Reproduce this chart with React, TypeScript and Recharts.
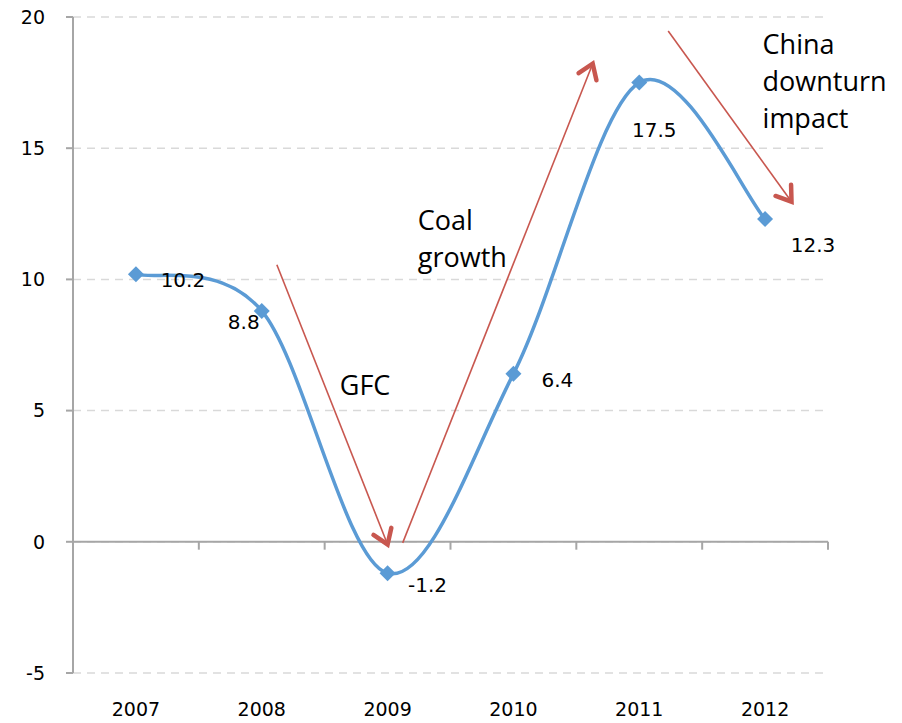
import { LineChart, Line, XAxis, YAxis, CartesianGrid, ReferenceLine, ReferenceDot } from 'recharts';

const years = ['2007', '2008', '2009', '2010', '2011', '2012'];
const growth = [10.2, 8.8, -1.2, 6.4, 17.5, 12.3];
const yTicks = [-5, 0, 5, 10, 15, 20];

// where each value label sits relative to its point (px)
const labelOffsets = [[47, 6], [-18, 11], [40, 12], [44, 6], [15, 47], [48, 26]];

// annotation arrows in data units: [x1, y1, x2, y2]
const arrows = [
  [1.12, 10.56, 2.0, -0.1],
  [2.12, -0.04, 3.63, 18.22],
  [4.23, 19.47, 5.21, 12.96],
];
const notes = [
  { x: 1.62, y: 5.98, lines: ['GFC'] },
  { x: 2.24, y: 12.27, lines: ['Coal', 'growth'] },
  { x: 4.98, y: 18.98, lines: ['China', 'downturn', 'impact'] },
];

const data = years.map((year, i) => ({ x: i, year, value: growth[i] }));
const boundaries = years.map((_, i) => i + 0.5);

const BLUE = '#5B9BD5';
const RED = '#C8574F';
const AXIS = '#a6a6a6';
const NUM_FONT = '"DejaVu Sans", sans-serif';
const TEXT_FONT = '"Open Sans", sans-serif';

// Excel-style smoothing (Catmull-Rom through every point)
function excelSmooth(context: any) {
  let pts: number[][] = [];
  return {
    areaStart() {},
    areaEnd() {},
    lineStart() {
      pts = [];
    },
    point(x: number, y: number) {
      pts.push([+x, +y]);
    },
    lineEnd() {
      const n = pts.length;
      if (!n) return;
      context.moveTo(pts[0][0], pts[0][1]);
      for (let i = 0; i < n - 1; i++) {
        const p0 = pts[Math.max(i - 1, 0)];
        const p1 = pts[i];
        const p2 = pts[i + 1];
        const p3 = pts[Math.min(i + 2, n - 1)];
        context.bezierCurveTo(
          p1[0] + (p2[0] - p0[0]) / 6,
          p1[1] + (p2[1] - p0[1]) / 6,
          p2[0] - (p3[0] - p1[0]) / 6,
          p2[1] - (p3[1] - p1[1]) / 6,
          p2[0],
          p2[1]
        );
      }
    },
  };
}

const Diamond = (props: any) => {
  const { cx, cy, index } = props;
  const r = 8;
  return (
    <polygon
      key={`dot-${index}`}
      points={`${cx},${cy - r} ${cx + r},${cy} ${cx},${cy + r} ${cx - r},${cy}`}
      fill={BLUE}
    />
  );
};

const ValueLabel = (props: any) => {
  const { x, y, value, index } = props;
  const [dx, dy] = labelOffsets[index] || [0, 0];
  return (
    <text
      key={`lbl-${index}`}
      x={x + dx}
      y={y + dy}
      textAnchor="middle"
      dominantBaseline="central"
      fontFamily={NUM_FONT}
      fontSize={20}
      fill="#000"
    >
      {value}
    </text>
  );
};

const Arrow = (props: any) => {
  const { x1, y1, x2, y2 } = props;
  const ang = Math.atan2(y2 - y1, x2 - x1);
  const len = 17;
  const spread = 0.6;
  const ax = x2 - len * Math.cos(ang - spread);
  const ay = y2 - len * Math.sin(ang - spread);
  const bx = x2 - len * Math.cos(ang + spread);
  const by = y2 - len * Math.sin(ang + spread);
  return (
    <g>
      <line x1={x1} y1={y1} x2={x2} y2={y2} stroke={RED} strokeWidth={1.6} />
      <polyline
        points={`${ax},${ay} ${x2},${y2} ${bx},${by}`}
        fill="none"
        stroke={RED}
        strokeWidth={4.5}
        strokeLinecap="round"
        strokeLinejoin="miter"
      />
    </g>
  );
};

const TickMark = (props: any) => {
  const { x1, y1, x2, y2 } = props;
  return <line x1={x1} y1={y1} x2={x2} y2={y2} stroke={AXIS} strokeWidth={2} />;
};

export default function App() {
  return (
    <div style={{ position: 'absolute', left: 0, top: 0, width: 902, height: 723, background: '#fff' }}>
      <LineChart width={902} height={723} data={data} margin={{ top: 17, right: 74, bottom: 0, left: 0 }}>
        <CartesianGrid vertical={false} stroke="#d9d9d9" strokeWidth={1.5} strokeDasharray="8 6" />
        <XAxis
          type="number"
          dataKey="x"
          domain={[-0.5, 5.5]}
          ticks={[0, 1, 2, 3, 4, 5]}
          tickFormatter={(v: number) => years[v]}
          axisLine={false}
          tickLine={false}
          tickSize={0}
          tickMargin={30}
          height={50}
          interval={0}
          tick={{ fontFamily: NUM_FONT, fontSize: 19, fill: '#000' }}
        />
        <YAxis
          domain={[-5, 20]}
          ticks={yTicks}
          width={73}
          axisLine={{ stroke: AXIS, strokeWidth: 2 }}
          tickLine={{ stroke: AXIS, strokeWidth: 2 }}
          tickSize={7}
          tickMargin={21}
          interval={0}
          tick={{ fontFamily: NUM_FONT, fontSize: 19, fill: '#000' }}
        />
        <ReferenceLine y={0} stroke={AXIS} strokeWidth={2} />
        {boundaries.map((b) => (
          <ReferenceLine
            key={`tm-${b}`}
            segment={[{ x: b, y: 0 }, { x: b, y: -0.3 }]}
            shape={TickMark}
          />
        ))}
        {arrows.map((a, i) => (
          <ReferenceLine
            key={`ar-${i}`}
            segment={[{ x: a[0], y: a[1] }, { x: a[2], y: a[3] }]}
            shape={Arrow}
          />
        ))}
        {notes.map((n, i) => (
          <ReferenceDot
            key={`note-${i}`}
            x={n.x}
            y={n.y}
            r={0}
            shape={(p: any) => (
              <g>
                {n.lines.map((ln, j) => (
                  <text
                    key={j}
                    x={p.cx}
                    y={p.cy + j * 37}
                    dominantBaseline="central"
                    fontFamily={TEXT_FONT}
                    fontSize={27}
                    fill="#000"
                  >
                    {ln}
                  </text>
                ))}
              </g>
            )}
          />
        ))}
        <Line
          type={excelSmooth as any}
          dataKey="value"
          stroke={BLUE}
          strokeWidth={3.5}
          dot={Diamond}
          activeDot={false}
          label={ValueLabel}
          isAnimationActive={false}
        />
      </LineChart>
    </div>
  );
}
